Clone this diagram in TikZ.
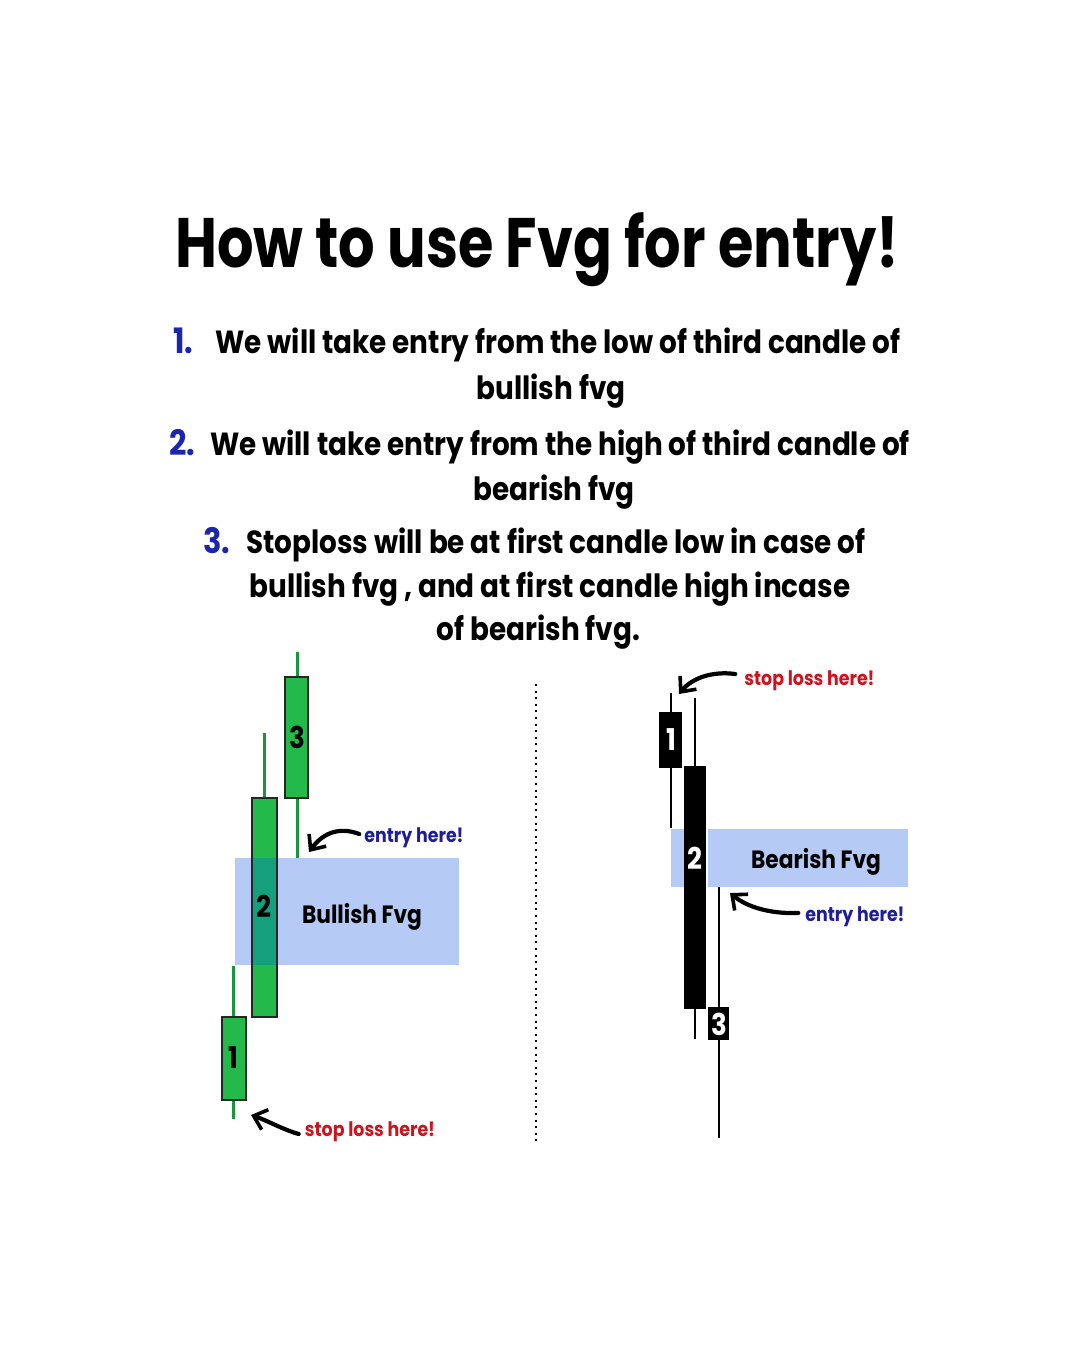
\documentclass[tikz,border=0pt]{standalone}
\usepackage{fontspec}
\setmainfont{Poppins}[FakeStretch=0.87]
\newfontfamily\titlefont{Poppins}[FakeStretch=0.82]
\usetikzlibrary{arrows.meta}
\definecolor{cgreen}{RGB}{35,185,75}
\definecolor{cteal}{RGB}{20,160,125}
\definecolor{fvgblue}{RGB}{182,202,246}
\definecolor{numblue}{RGB}{28,38,170}
\definecolor{navy}{RGB}{30,30,150}
\definecolor{cred}{RGB}{205,20,30}
\tikzset{
  title/.style={font=\titlefont\bfseries\fontsize{70}{72}\selectfont, anchor=base, inner sep=0},
  body/.style={font=\bfseries\fontsize{32}{34}\selectfont, anchor=base, inner sep=0},
  num/.style={font=\bfseries\fontsize{35}{37}\selectfont, text=numblue, anchor=base, inner sep=0},
  lbl/.style={font=\bfseries\fontsize{20}{22}\selectfont, anchor=base, inner sep=0},
  fvg/.style={font=\bfseries\fontsize{25}{27}\selectfont, anchor=base, inner sep=0},
  cnum/.style={font=\bfseries\fontsize{30}{32}\selectfont, inner sep=0},
  gwick/.style={draw=cgreen!80!black, line width=3pt},
  bwick/.style={draw=black, line width=2.6pt},
  gbody/.style={fill=cgreen, draw=black!85, line width=1.6pt},
  bbody/.style={fill=black},
  pointer/.style={line width=4.2pt, line cap=round, -{Straight Barb[length=12pt,width=21pt,line width=3.6pt]}},
}
\begin{document}
\begin{tikzpicture}[x=1pt,y=-1pt]
\useasboundingbox (0,0) rectangle (1080,1350);
\fill[white] (0,0) rectangle (1080,1350);

% title
\node[title] (t) at (537,267) {How to use Fvg for entry!};

% list
\node[num] (n1) at (183.5,353) {1.};
\node[body] (l1a) at (558,353) {We will take entry from the low of third candle of};
\node[body] (l1b) at (551,399) {bullish fvg};
\node[num] (n2) at (182.5,455) {2.};
\node[body] (l2a) at (560,455) {We will take entry from the high of third candle of};
\node[body] (l2b) at (554,500) {bearish fvg};
\node[num] (n3) at (217,553) {3.};
\node[body] (l3a) at (556,553) {Stoploss will be at first candle low in case of};
\node[body] (l3b) at (550,597) {bullish fvg , and at first candle high incase};
\node[body] (l3c) at (538.5,640) {of bearish fvg.};

% divider
\draw[line width=1.5pt, dash pattern=on 2pt off 4.6pt] (536,684) -- (536,1142);

% ---------- bullish (left) ----------
\draw[gwick] (297,652) -- (297,858);
\draw[gwick] (264,733) -- (264,1017);
\draw[gwick] (233,966) -- (233,1119);
\fill[fvgblue] (235,858) rectangle (459,965);
\filldraw[gbody] (285,677) rectangle (308,798);
\filldraw[gbody] (252,798) rectangle (277,1017);
\fill[cteal] (253,858) rectangle (276,965);
\draw[draw=black!85, line width=1.6pt] (252,798) rectangle (277,1017);
\filldraw[gbody] (222,1017) rectangle (246,1100);
\node[cnum] (c3) at (297,737) {3};
\node[cnum] (c2) at (264,906) {2};
\node[cnum] (c1) at (233,1058) {1};
\node[fvg] (bull) at (362,923) {Bullish Fvg};

\node[lbl, text=navy] (entL) at (414,842) {entry here!};
\coordinate (entLtip) at (309,852);
\draw[pointer] (entL.base west) ++(-5,-8) .. controls (338,826) and (322,834) .. (entLtip);
\node[lbl, text=cred] (stopL) at (370,1136) {stop loss here!};
\coordinate (stopLtip) at (251,1115);
\draw[pointer] (stopL.base west) ++(-6,-2) .. controls (284,1130) and (266,1120) .. (stopLtip);

% ---------- bearish (right) ----------
\fill[fvgblue] (671,829) rectangle (908,887);
\draw[bwick] (671,693) -- (671,828);
\draw[bwick] (695,698) -- (695,1039);
\draw[bwick] (719,887) -- (719,1138);
\fill[bbody] (659,712) rectangle (682,768);
\fill[bbody] (684,766) rectangle (706,1009);
\draw[white, line width=1.5pt] (707,829) -- (707,887);
\fill[bbody] (708,1007) rectangle (729,1040);
\node[cnum, text=white] (d1) at (671,740) {1};
\node[cnum, text=white] (d2) at (695,858) {2};
\node[cnum, text=white] (d3) at (719,1024) {3};
\node[fvg] (bear) at (816,868) {Bearish Fvg};

\node[lbl, text=cred] (stopR) at (809.5,685) {stop loss here!};
\coordinate (stopRtip) at (679,694);
\draw[pointer] (stopR.base west) ++(-9,-11) .. controls (712,671) and (692,678) .. (stopRtip);
\node[lbl, text=navy] (entR) at (855,921) {entry here!};
\coordinate (entRtip) at (730,893);
\draw[pointer] (entR.base west) ++(-7,-8) .. controls (770,914) and (747,907) .. (entRtip);
\end{tikzpicture}
\end{document}
